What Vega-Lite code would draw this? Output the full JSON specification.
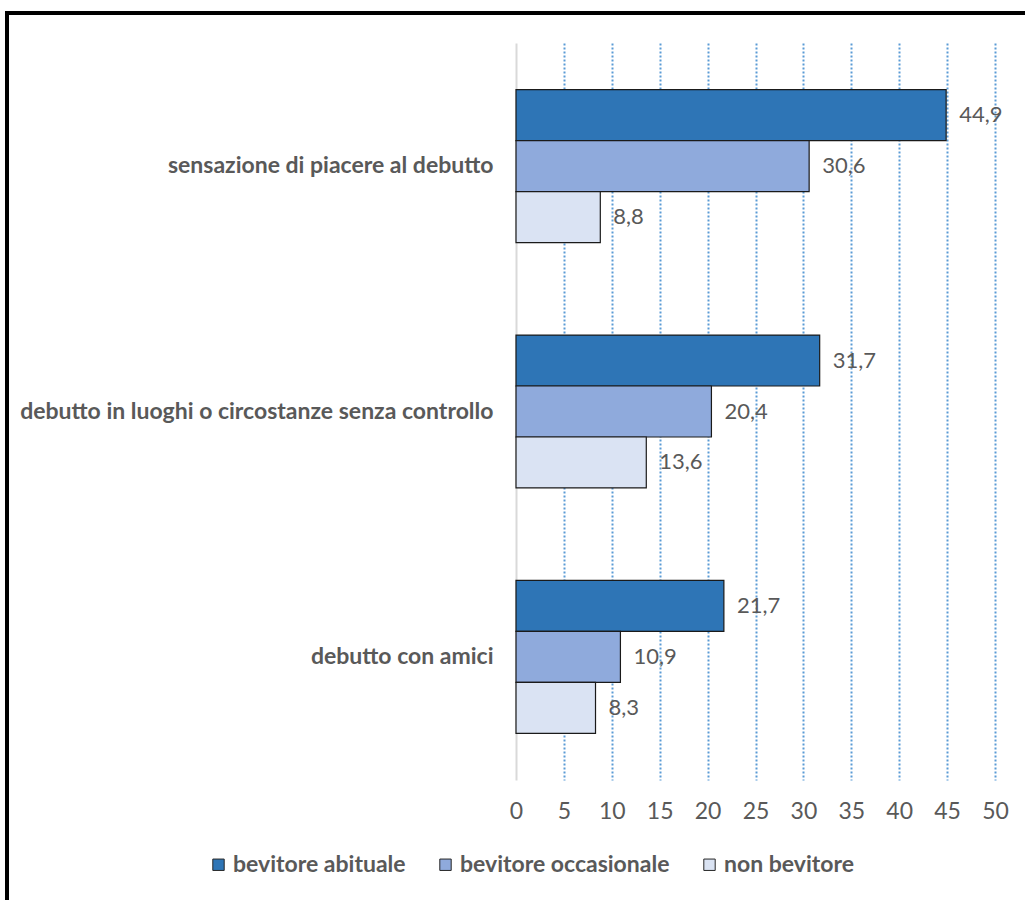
{
  "$schema": "https://vega.github.io/schema/vega-lite/v6.json",
  "autosize": "none",
  "width": 1026,
  "height": 895,
  "padding": {"left": 7, "top": 13, "right": -8, "bottom": -8},
  "background": "white",
  "config": {
    "view": {"stroke": "#000000", "strokeWidth": 4},
    "font": "Lato",
    "locale": {
      "number": {"decimal": ",", "thousands": ".", "grouping": [3], "currency": ["", " €"]}
    }
  },
  "data": {
    "values": [
      {"category": "sensazione di piacere al debutto", "series": "bevitore abituale", "value": 44.9},
      {"category": "sensazione di piacere al debutto", "series": "bevitore occasionale", "value": 30.6},
      {"category": "sensazione di piacere al debutto", "series": "non bevitore", "value": 8.8},
      {"category": "debutto in luoghi o circostanze senza controllo", "series": "bevitore abituale", "value": 31.7},
      {"category": "debutto in luoghi o circostanze senza controllo", "series": "bevitore occasionale", "value": 20.4},
      {"category": "debutto in luoghi o circostanze senza controllo", "series": "non bevitore", "value": 13.6},
      {"category": "debutto con amici", "series": "bevitore abituale", "value": 21.7},
      {"category": "debutto con amici", "series": "bevitore occasionale", "value": 10.9},
      {"category": "debutto con amici", "series": "non bevitore", "value": 8.3}
    ]
  },
  "encoding": {
    "y": {
      "field": "category",
      "type": "nominal",
      "sort": ["sensazione di piacere al debutto", "debutto in luoghi o circostanze senza controllo", "debutto con amici"],
      "scale": {"range": [30, 767], "paddingInner": 0.377, "paddingOuter": 0.19},
      "axis": {
        "orient": "left",
        "offset": -509,
        "title": null,
        "domain": false,
        "ticks": false,
        "labelPadding": 23,
        "labelLimit": 700,
        "labelFont": "Lato",
        "labelFontSize": 23,
        "labelFontWeight": "bold",
        "labelColor": "#595959"
      }
    },
    "yOffset": {
      "field": "series",
      "type": "nominal",
      "sort": ["bevitore abituale", "bevitore occasionale", "non bevitore"],
      "scale": {"paddingInner": 0, "paddingOuter": 0}
    },
    "x": {
      "field": "value",
      "type": "quantitative",
      "scale": {"domain": [0, 50], "range": [509, 988], "nice": false, "zero": true},
      "axis": {
        "orient": "top",
        "offset": -810,
        "title": null,
        "domain": false,
        "ticks": false,
        "labelPadding": 0,
        "labelFlush": false,
        "values": [0, 5, 10, 15, 20, 25, 30, 35, 40, 45, 50],
        "format": "d",
        "labelFont": "Lato",
        "labelFontSize": 23,
        "labelColor": "#595959",
        "grid": true,
        "gridWidth": 2,
        "gridColor": {"condition": {"test": "datum.value === 0", "value": "#D9D9D9"}, "value": "#5B9BD5"},
        "gridDash": {"condition": {"test": "datum.value === 0", "value": []}, "value": [2, 2]}
      }
    }
  },
  "layer": [
    {
      "mark": {"type": "bar", "stroke": "#1a1a1a", "strokeWidth": 1.2},
      "encoding": {
        "color": {
          "field": "series",
          "type": "nominal",
          "sort": ["bevitore abituale", "bevitore occasionale", "non bevitore"],
          "scale": {
            "domain": ["bevitore abituale", "bevitore occasionale", "non bevitore"],
            "range": ["#2E75B6", "#8FAADC", "#DAE3F3"]
          },
          "legend": {
            "orient": "none",
            "direction": "horizontal",
            "legendX": 200,
            "legendY": 840,
            "title": null,
            "padding": 0,
            "symbolType": "square",
            "symbolSize": 130,
            "symbolStrokeColor": "#262626",
            "symbolStrokeWidth": 1,
            "symbolOpacity": 1,
            "labelOffset": 3,
            "columnPadding": 28,
            "labelFont": "Lato",
            "labelFontSize": 23,
            "labelFontWeight": "bold",
            "labelColor": "#595959",
            "labelLimit": 400
          }
        }
      }
    },
    {
      "mark": {"type": "text", "align": "left", "baseline": "middle", "dx": 13, "font": "Lato", "fontSize": 22, "color": "#595959"},
      "encoding": {
        "text": {"field": "value", "type": "quantitative", "format": ".1f"}
      }
    }
  ]
}
